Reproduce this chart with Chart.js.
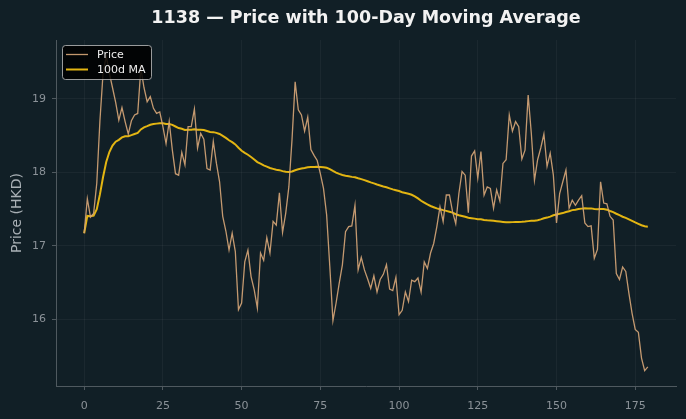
<!DOCTYPE html>
<html>
<head>
<meta charset="utf-8">
<script src="https://cdn.jsdelivr.net/npm/chart.js@4.4.1/dist/chart.umd.min.js"></script>
<style>
html,body{margin:0;padding:0;background:#111f26;}
#wrap{width:686px;height:419px;}
</style>
</head>
<body>
<div id="wrap"><canvas id="c" width="686" height="419"></canvas></div>
<script>
const chartTitle = "1138 — Price with 100-Day Moving Average";
const yAxisLabel = "Price (HKD)";
const seriesNames = ["Price", "100d MA"];
const xTickValues = [0, 25, 50, 75, 100, 125, 150, 175];
const yTickValues = [16, 17, 18, 19];
const maWindow = 100;

const price = [
  17.17,17.64,17.39,17.44,17.85,18.70,19.35,19.58,19.35,19.15,
  18.95,18.71,18.88,18.69,18.52,18.70,18.78,18.80,19.42,19.15,
  18.96,19.03,18.87,18.80,18.82,18.62,18.39,18.69,18.30,17.98,
  17.96,18.27,18.10,18.62,18.62,18.86,18.33,18.53,18.45,18.05,
  18.03,18.42,18.12,17.87,17.40,17.20,16.94,17.17,16.92,16.13,
  16.22,16.78,16.94,16.58,16.40,16.15,16.90,16.80,17.11,16.90,
  17.33,17.28,17.72,17.18,17.44,17.80,18.44,19.23,18.85,18.78,
  18.56,18.75,18.31,18.23,18.16,17.98,17.78,17.42,16.72,15.98,
  16.22,16.49,16.74,17.19,17.26,17.27,17.55,16.67,16.84,16.67,
  16.55,16.42,16.59,16.37,16.54,16.61,16.74,16.41,16.39,16.57,
  16.06,16.12,16.37,16.24,16.53,16.51,16.56,16.37,16.78,16.69,
  16.90,17.03,17.26,17.53,17.33,17.69,17.69,17.46,17.30,17.71,
  18.01,17.96,17.45,18.22,18.29,17.92,18.28,17.69,17.80,17.78,
  17.51,17.76,17.61,18.12,18.17,18.78,18.56,18.69,18.62,18.18,
  18.30,19.05,18.53,17.89,18.17,18.33,18.52,18.08,18.26,17.96,
  17.31,17.71,17.87,18.03,17.51,17.62,17.55,17.62,17.68,17.31,
  17.26,17.27,16.83,16.95,17.87,17.58,17.57,17.40,17.35,16.62,
  16.54,16.71,16.65,16.35,16.08,15.86,15.82,15.47,15.30,15.35
];

// day index of each observation
const days = price.map((_, i) => i);

// 100-day rolling mean of the price (partial window at the start)
function rollingMean(values, w) {
  const out = [];
  let sum = 0;
  for (let i = 0; i < values.length; i++) {
    sum += values[i];
    if (i >= w) sum -= values[i - w];
    out.push(sum / Math.min(i + 1, w));
  }
  return out;
}
const movingAvg = rollingMean(price, maWindow);

const BG = '#111f26';
const PRICE_COLOR = 'rgba(212,164,118,0.92)';
const MA_COLOR = '#e3b512';
const TICK_COLOR = '#8b9298';
const SPINE_COLOR = '#4f595f';
const GRID_COLOR = 'rgba(255,255,255,0.045)';

const decor = {
  id: 'decor',
  beforeDraw(chart) {
    const ctx = chart.ctx;
    ctx.save();
    ctx.fillStyle = BG;
    ctx.fillRect(0, 0, chart.width, chart.height);
    ctx.restore();
  },
  afterDraw(chart) {
    const ctx = chart.ctx;
    const ca = chart.chartArea;
    ctx.save();
    // title
    ctx.fillStyle = '#f2f2f2';
    ctx.font = 'bold 17.5px "DejaVu Sans"';
    ctx.textAlign = 'center';
    ctx.textBaseline = 'middle';
    ctx.fillText(chartTitle, (ca.left + ca.right) / 2, 18);
    // legend
    const lx = 62.5, ly = 45.5, lw = 89, lh = 34;
    ctx.beginPath();
    if (ctx.roundRect) ctx.roundRect(lx, ly, lw, lh, 3); else ctx.rect(lx, ly, lw, lh);
    ctx.fillStyle = 'rgba(0,0,0,0.85)';
    ctx.fill();
    ctx.strokeStyle = 'rgba(190,190,190,0.8)';
    ctx.lineWidth = 1;
    ctx.stroke();
    const rows = [54.5, 69.5];
    chart.data.datasets.forEach((ds, k) => {
      ctx.beginPath();
      ctx.moveTo(66, rows[k]);
      ctx.lineTo(88, rows[k]);
      ctx.strokeStyle = ds.borderColor;
      ctx.lineWidth = ds.borderWidth;
      ctx.stroke();
      ctx.fillStyle = '#eeeeee';
      ctx.font = '11px "DejaVu Sans"';
      ctx.textAlign = 'left';
      ctx.textBaseline = 'middle';
      ctx.fillText(ds.label, 97, rows[k] + 0.5);
    });
    ctx.restore();
  }
};

new Chart(document.getElementById('c'), {
  type: 'line',
  data: {
    datasets: [
      {
        label: seriesNames[0],
        data: days.map((d, i) => ({ x: d, y: price[i] })),
        borderColor: PRICE_COLOR,
        borderWidth: 1.3,
        pointRadius: 0,
        tension: 0,
        fill: false
      },
      {
        label: seriesNames[1],
        data: days.map((d, i) => ({ x: d, y: movingAvg[i] })),
        borderColor: MA_COLOR,
        borderWidth: 2,
        pointRadius: 0,
        tension: 0,
        fill: false
      }
    ]
  },
  options: {
    responsive: false,
    devicePixelRatio: 1,
    animation: false,
    layout: { padding: { top: 40, right: 10, left: 0, bottom: 0 } },
    plugins: {
      legend: { display: false },
      title: { display: false },
      tooltip: { enabled: false }
    },
    scales: {
      x: {
        type: 'linear',
        min: -8.95,
        max: 187.95,
        afterBuildTicks: s => { s.ticks = xTickValues.map(v => ({ value: v })); },
        afterFit: s => { s.height = 33; },
        grid: { color: GRID_COLOR, tickColor: SPINE_COLOR, tickLength: 4, drawOnChartArea: true },
        border: { color: SPINE_COLOR, width: 1 },
        ticks: { color: TICK_COLOR, font: { family: 'DejaVu Sans', size: 11 }, padding: 10, maxRotation: 0 }
      },
      y: {
        type: 'linear',
        min: 15.09,
        max: 19.8,
        afterBuildTicks: s => { s.ticks = yTickValues.map(v => ({ value: v })); },
        afterFit: s => { s.width = 56; },
        grid: { color: GRID_COLOR, tickColor: SPINE_COLOR, tickLength: 4 },
        border: { color: SPINE_COLOR, width: 1 },
        ticks: { color: TICK_COLOR, font: { family: 'DejaVu Sans', size: 11 }, padding: 6 },
        title: { display: true, text: yAxisLabel, color: '#a9b0b5', font: { family: 'DejaVu Sans', size: 14 }, padding: { top: 9, bottom: 0 } }
      }
    }
  },
  plugins: [decor]
});
</script>
</body>
</html>
